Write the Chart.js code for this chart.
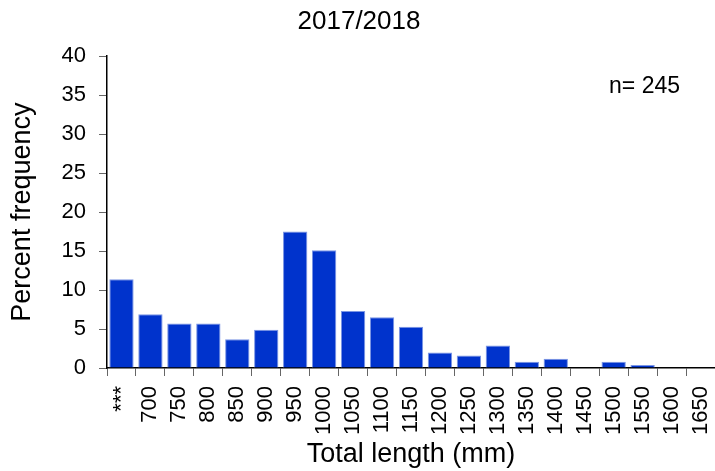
<!DOCTYPE html>
<html>
<head>
<meta charset="utf-8">
<script src="https://cdn.jsdelivr.net/npm/chart.js@4/dist/chart.umd.min.js"></script>
<style>
  html, body { margin: 0; padding: 0; background: #fff; }
  #wrap { width: 715px; height: 471px; }
</style>
</head>
<body>
<div id="wrap"><canvas id="lengthChart" width="715" height="471"></canvas></div>
<script>
// length classes (mm), first class is the pooled small fish
const lengthClasses = ['***', '700', '750', '800', '850', '900', '950', '1000', '1050', '1100',
  '1150', '1200', '1250', '1300', '1350', '1400', '1450', '1500', '1550', '1600', '1650'];
// percent frequency per class
const percentFreq = [11.4, 6.9, 5.7, 5.7, 3.7, 4.9, 17.5, 15.1, 7.3, 6.5,
  5.3, 2.0, 1.6, 2.9, 0.8, 1.2, 0, 0.8, 0.4, 0, 0];
const yTicks = [0, 5, 10, 15, 20, 25, 30, 35, 40];
const sampleSize = 245;

const fontFamily = "'Liberation Sans', Arial, sans-serif";

const nLabel = {
  id: 'nLabel',
  afterDraw(chart) {
    const ctx = chart.ctx;
    const area = chart.chartArea;
    ctx.save();
    ctx.font = '23px ' + fontFamily;
    ctx.fillStyle = '#000';
    ctx.textAlign = 'right';
    ctx.textBaseline = 'middle';
    ctx.fillText('n= ' + sampleSize, area.right - 35, area.top + 30);
    ctx.restore();
  }
};

window.onload = function() {
  let ctx = document.getElementById('lengthChart');
  new Chart(ctx, {
    type: 'bar',
    data: {
      labels: lengthClasses,
      datasets: [{
        label: 'Percent frequency',
        data: percentFreq,
        backgroundColor: '#0033CC',
        borderColor: '#7b96e4',
        borderWidth: 1,
        barPercentage: 0.84,
        categoryPercentage: 1.0
      }]
    },
    options: {
      responsive: false,
      animation: false,
      layout: { padding: { left: 0, right: -3, top: 0, bottom: 0 } },
      plugins: {
        legend: { display: false },
        tooltip: { enabled: false },
        title: {
          display: true,
          text: '2017/2018',
          color: '#000',
          font: { family: fontFamily, size: 26, weight: 'normal' },
          padding: { top: 6, bottom: 19 }
        }
      },
      scales: {
        x: {
          grid: {
            display: true,
            drawOnChartArea: false,
            drawTicks: true,
            tickLength: 8,
            tickColor: '#666',
            offset: true
          },
          border: { display: true, color: '#000', width: 1.5 },
          ticks: {
            color: '#000',
            font: { family: fontFamily, size: 22 },
            minRotation: 90,
            maxRotation: 90,
            autoSkip: false,
            padding: 10
          },
          title: {
            display: true,
            text: 'Total length (mm)',
            color: '#000',
            font: { family: fontFamily, size: 27 },
            padding: { top: 0, bottom: 0 }
          },
          afterFit(scale) {
            scale.height = 103;
            scale.paddingLeft = 0;
            scale.paddingRight = 0;
          }
        },
        y: {
          min: 0,
          max: 40,
          afterBuildTicks(scale) { scale.ticks = yTicks.map(v => ({ value: v })); },
          grid: {
            display: true,
            drawOnChartArea: false,
            drawTicks: true,
            tickLength: 8,
            tickColor: '#666'
          },
          border: { display: true, color: '#000', width: 1.5 },
          ticks: {
            color: '#000',
            font: { family: fontFamily, size: 22 },
            padding: 13
          },
          title: {
            display: true,
            text: 'Percent frequency',
            color: '#000',
            font: { family: fontFamily, size: 27 },
            padding: { top: 6, bottom: 0 }
          },
          afterFit(scale) { scale.width = 107; }
        }
      }
    },
    plugins: [nLabel]
  });
};
</script>
</body>
</html>
